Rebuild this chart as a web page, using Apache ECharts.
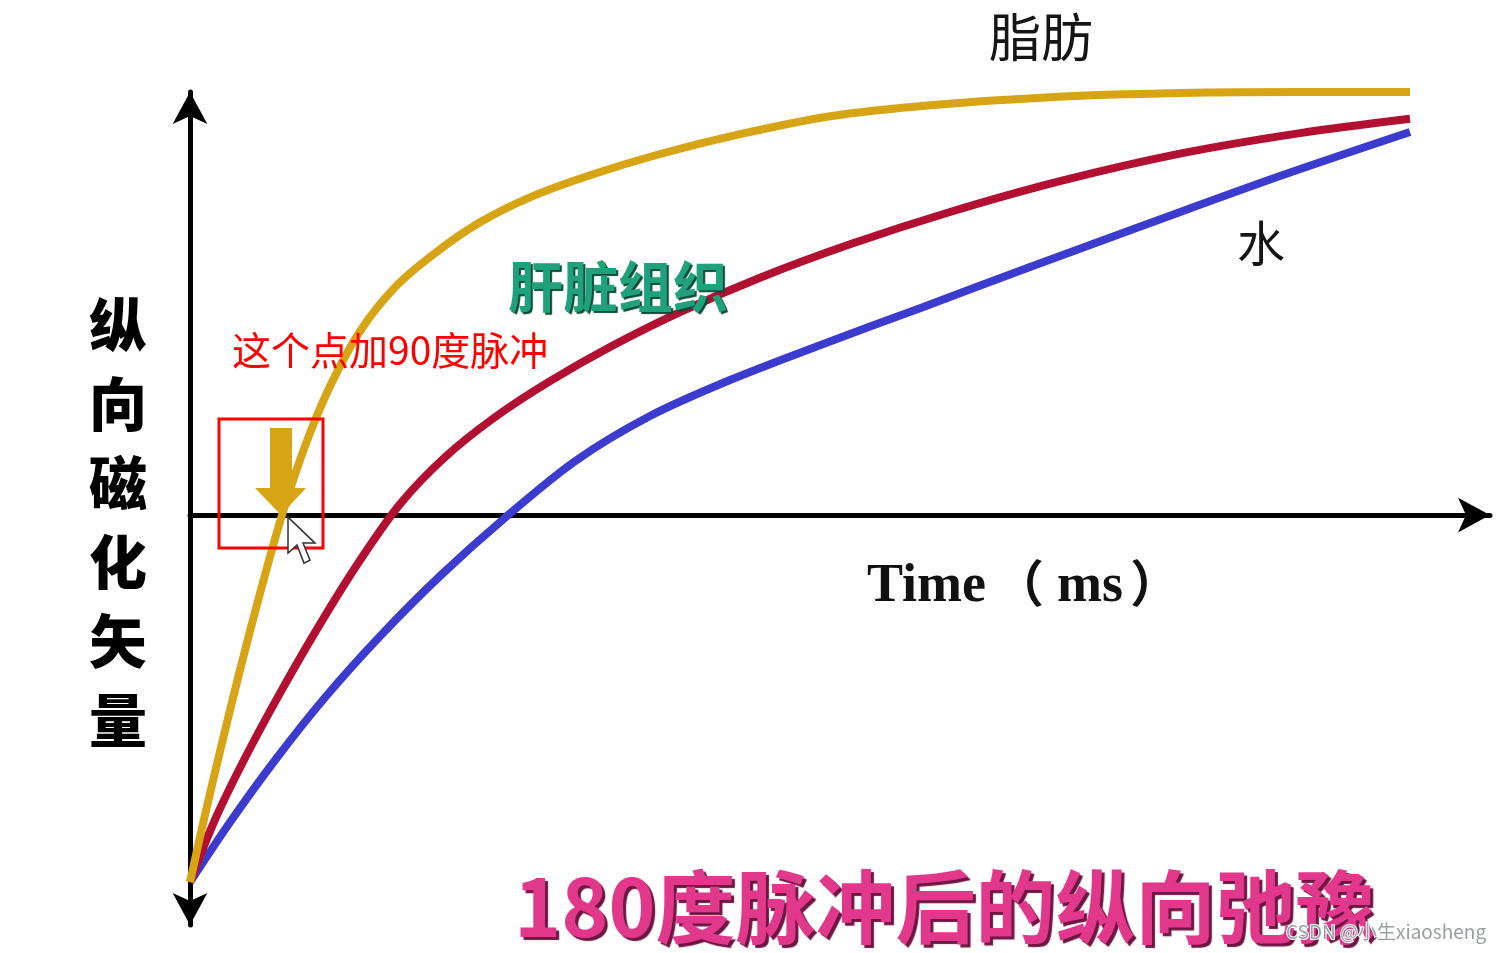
<!DOCTYPE html>
<html>
<head>
<meta charset="utf-8">
<script src="https://cdn.jsdelivr.net/npm/echarts@6/dist/echarts.min.js"></script>
<style>
html,body{margin:0;padding:0;background:#fff;}
#chart{width:1502px;height:953px;}
</style>
</head>
<body>
<div id="chart"></div>
<script>
// ---- data (time in ms, longitudinal magnetisation Mz / M0) ----
const fatTime   = [0, 15, 32, 50, 70, 92, 115, 140, 170, 205, 245, 290, 340, 400, 470, 550, 640, 740, 860, 990, 1110, 1220];
const fatMz     = [-1, -0.817, -0.621, -0.422, -0.213, 0, 0.188, 0.351, 0.501, 0.621, 0.714, 0.798, 0.866, 0.926, 0.984, 1.038, 1.087, 1.117, 1.139, 1.150, 1.153, 1.153];
const liverTime = [0, 25, 55, 90, 130, 170, 210, 255, 305, 360, 420, 490, 570, 660, 760, 870, 990, 1110, 1220];
const liverMz   = [-1, -0.830, -0.662, -0.485, -0.297, -0.123, 0.030, 0.158, 0.267, 0.365, 0.458, 0.553, 0.647, 0.738, 0.826, 0.910, 0.985, 1.041, 1.080];
const waterTime = [0, 40, 85, 135, 190, 250, 315, 385, 460, 540, 630, 730, 840, 960, 1090, 1220];
const waterMz   = [-1, -0.837, -0.668, -0.497, -0.330, -0.166, -0.007, 0.147, 0.270, 0.368, 0.463, 0.564, 0.676, 0.796, 0.924, 1.044];
const pulse90Point = [92, 0]; // where fat crosses zero

const seriesNames = ['脂肪', '肝脏组织', '水'];
const title = '180度脉冲后的纵向弛豫';
const yAxisName = '纵向磁化矢量';
const xAxisWord = 'Time';
const xAxisUnit = ['（', 'ms', '）'];
const note = '这个点加90度脉冲';

const zip = (a, b) => a.map((v, i) => [v, b[i]]);

const chart = echarts.init(document.getElementById('chart'));
const CJK = '"Noto Sans CJK SC", "Noto Sans", sans-serif';
const SERIF = '"Liberation Serif", "DejaVu Serif", serif';

const axisLineStyle = {color: '#000', width: 5};

chart.setOption({
  animation: false,
  backgroundColor: '#fff',
  grid: {left: 190, right: 12, top: 92, bottom: 28, containLabel: false},
  xAxis: {
    type: 'value', min: 0, max: 1300,
    axisLine: {show: true, onZero: true, symbol: ['none', 'arrow'], symbolSize: [26, 32], lineStyle: axisLineStyle},
    axisTick: {show: false}, axisLabel: {show: false}, splitLine: {show: false}
  },
  yAxis: {
    type: 'value', min: -1.117, max: 1.153,
    axisLine: {show: true, onZero: true, symbol: ['arrow', 'arrow'], symbolSize: [26, 32], lineStyle: axisLineStyle},
    axisTick: {show: false}, axisLabel: {show: false}, splitLine: {show: false}
  },
  series: [
    {name: seriesNames[0], type: 'line', data: zip(fatTime, fatMz), smooth: 0.3, showSymbol: false, clip: false,
     lineStyle: {color: '#D6A414', width: 8}, z: 3},
    {name: seriesNames[1], type: 'line', data: zip(liverTime, liverMz), smooth: 0.3, showSymbol: false, clip: false,
     lineStyle: {color: '#B20F31', width: 8}, z: 2},
    {name: seriesNames[2], type: 'line', data: zip(waterTime, waterMz), smooth: 0.3, showSymbol: false, clip: false,
     lineStyle: {color: '#3B3BCF', width: 8}, z: 1}
  ]
});

const p = chart.convertToPixel({gridIndex: 0}, pulse90Point);
const cx = p[0], cy = p[1];

chart.setOption({
  graphic: [
    // series labels
    {type: 'text', left: 989, top: 11, z: 10,
     style: {text: seriesNames[0], font: 'normal 52px ' + CJK, fill: '#151515'}},
    {type: 'text', left: 508, top: 259, z: 10,
     style: {text: seriesNames[1], font: 'bold 55px ' + CJK, fill: '#1FA27B',
             textShadowColor: '#0b4a37', textShadowOffsetX: 2, textShadowOffsetY: 2, textShadowBlur: 1}},
    {type: 'text', left: 1237, top: 219, z: 10,
     style: {text: seriesNames[2], font: 'normal 48px ' + CJK, fill: '#151515'}},
    // y axis name (vertical)
    {type: 'text', x: 118, y: 285, z: 10,
     style: {text: yAxisName.split('').join('\n'), font: '900 58px ' + CJK, fill: '#000',
             lineHeight: 79, align: 'center', verticalAlign: 'top'}},
    // x axis name
    {type: 'text', left: 867, top: 560, z: 10,
     style: {text: xAxisWord, font: 'bold 54px ' + SERIF, fill: '#111'}},
    {type: 'text', left: 994, top: 558, z: 10,
     style: {text: xAxisUnit[0], font: 'bold 50px ' + CJK, fill: '#111'}},
    {type: 'text', left: 1057, top: 560, z: 10,
     style: {text: xAxisUnit[1], font: 'bold 54px ' + SERIF, fill: '#111'}},
    {type: 'text', left: 1130, top: 558, z: 10,
     style: {text: xAxisUnit[2], font: 'bold 50px ' + CJK, fill: '#111'}},
    // title
    {type: 'text', x: 514, y: 907, z: 10,
     style: {text: title, font: 'bold 80px ' + CJK, fill: '#E2388C', verticalAlign: 'middle',
             textShadowColor: '#6d1642', textShadowOffsetX: 3, textShadowOffsetY: 3, textShadowBlur: 1}},
    // annotation text
    {type: 'text', left: 232, top: 331, z: 10,
     style: {text: note, font: 'normal 39px ' + CJK, fill: '#FF0000'}},
    // red box
    {type: 'rect', shape: {x: cx - 63, y: cy - 96, width: 104, height: 129}, z: 9,
     style: {fill: 'none', stroke: '#FF0000', lineWidth: 3}},
    // gold down arrow
    {type: 'polygon', z: 8,
     shape: {points: [[cx - 12, cy - 87], [cx + 10, cy - 87], [cx + 10, cy - 27], [cx + 24, cy - 27],
                      [cx - 1, cy], [cx - 27, cy - 27], [cx - 12, cy - 27]]},
     style: {fill: '#D6A414'}},
    // mouse cursor
    {type: 'polygon', z: 11,
     shape: {points: [[cx + 6, cy + 2], [cx + 6, cy + 38], [cx + 15, cy + 30], [cx + 22, cy + 48],
                      [cx + 28, cy + 45], [cx + 21, cy + 28], [cx + 33, cy + 28]]},
     style: {fill: '#fff', stroke: '#333', lineWidth: 1.5}},
    // watermark
    {type: 'text', left: 1285, top: 921, z: 12,
     style: {text: 'CSDN @小生xiaosheng', font: 'normal 19px ' + CJK, fill: '#9a9fa5',
             stroke: '#ffffff', lineWidth: 2}}
  ]
});
</script>
</body>
</html>
